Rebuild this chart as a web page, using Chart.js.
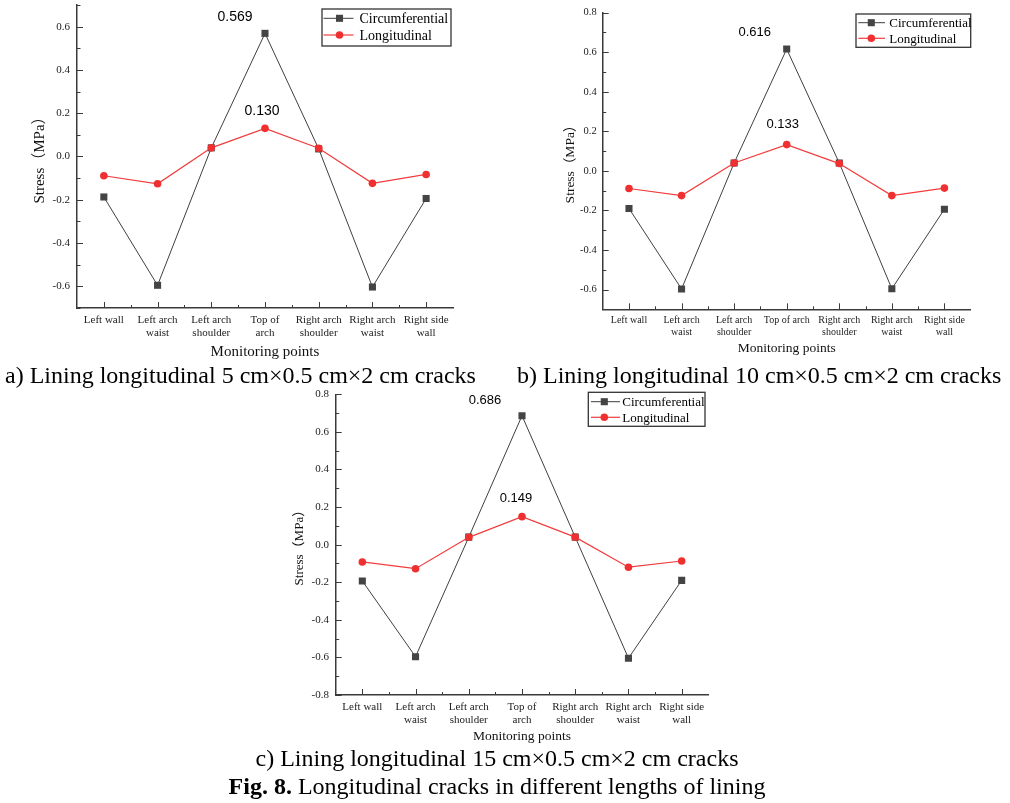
<!DOCTYPE html>
<html><head><meta charset="utf-8">
<script src="https://cdn.jsdelivr.net/npm/chart.js@4.4.1/dist/chart.umd.min.js"></script>
<style>
html,body{margin:0;padding:0;background:#fff;width:1010px;height:803px;overflow:hidden;position:relative;}
.panel{position:absolute;}
.panel canvas{display:block;}
.cap{position:absolute;font-family:'Liberation Serif','Times New Roman',serif;font-size:24px;line-height:28px;white-space:nowrap;color:#000;}
</style></head><body>
<div class="panel" style="left:0px;top:0px;width:460px;height:362px"><canvas id="ca" width="460" height="362"></canvas></div>
<div class="panel" style="left:530px;top:0px;width:450px;height:362px"><canvas id="cb" width="450" height="362"></canvas></div>
<div class="panel" style="left:290px;top:385px;width:430px;height:360px"><canvas id="cc" width="430" height="360"></canvas></div>
<div class="cap" style="left:5px;top:361px">a) Lining longitudinal 5 cm×0.5 cm×2 cm cracks</div>
<div class="cap" style="left:517px;top:361px">b) Lining longitudinal 10 cm×0.5 cm×2 cm cracks</div>
<div class="cap" style="left:0;width:994px;text-align:center;top:744px">c) Lining longitudinal 15 cm×0.5 cm×2 cm cracks</div>
<div class="cap" style="left:0;width:994px;text-align:center;top:772px"><b>Fig. 8.</b> Longitudinal cracks in different lengths of lining</div>
<script>
// ---- data ----
const categories = [['Left wall'], ['Left arch', 'waist'], ['Left arch', 'shoulder'], ['Top of', 'arch'], ['Right arch', 'shoulder'], ['Right arch', 'waist'], ['Right side', 'wall']];
const categoriesB = [['Left wall'], ['Left arch', 'waist'], ['Left arch', 'shoulder'], ['Top of arch'], ['Right arch', 'shoulder'], ['Right arch', 'waist'], ['Right side', 'wall']];
const seriesNames = ['Circumferential', 'Longitudinal'];

const circA = [-0.187, -0.595, 0.040, 0.569, 0.035, -0.603, -0.194];
const longA = [-0.089, -0.126, 0.040, 0.130, 0.038, -0.124, -0.083];
const circB = [-0.190, -0.597, 0.040, 0.616, 0.040, -0.596, -0.194];
const longB = [-0.089, -0.125, 0.040, 0.133, 0.037, -0.125, -0.087];
const circC = [-0.193, -0.596, 0.040, 0.686, 0.040, -0.604, -0.190];
const longC = [-0.092, -0.128, 0.039, 0.149, 0.040, -0.120, -0.087];

const yTicksA = [-0.6, -0.4, -0.2, 0.0, 0.2, 0.4, 0.6];
const yTicksB = [-0.6, -0.4, -0.2, 0.0, 0.2, 0.4, 0.6, 0.8];
const yTicksC = [-0.8, -0.6, -0.4, -0.2, 0.0, 0.2, 0.4, 0.6, 0.8];
const yRangeA = [-0.7, 0.7];
const yRangeB = [-0.7, 0.8];
const yRangeC = [-0.8, 0.8];

// ---- styles ----
const SERIF = "'Liberation Serif', 'Times New Roman', 'Noto Sans CJK SC', serif";
const SANS = "'Liberation Sans', Arial, sans-serif";
const AX = '#3a3a3a';
const CIRC_COLOR = '#3f3f3f';
const LONG_COLOR = '#f23b3b';

const deco = {
  id: 'deco',
  afterDatasetsDraw(chart, args, o) {
    const ctx = chart.ctx, ca = chart.chartArea, x = chart.scales.x, y = chart.scales.y;
    ctx.save();
    // inward ticks
    ctx.strokeStyle = AX; ctx.lineWidth = 1;
    const steps = Math.round((y.max - y.min) / 0.1);
    for (let i = 0; i <= steps; i++) {
      const v = y.min + i * 0.1;
      const k = Math.round(v * 10);
      const len = (Math.abs(k) % 2 === 0) ? 6 : 3.5;
      const py = Math.round(y.getPixelForValue(v)) + 0.5;
      ctx.beginPath(); ctx.moveTo(ca.left, py); ctx.lineTo(ca.left + len, py); ctx.stroke();
    }
    const n = chart.data.labels.length;
    for (let i = 0; i < n; i++) {
      const px = Math.round(x.getPixelForValue(i)) + 0.5;
      ctx.beginPath(); ctx.moveTo(px, ca.bottom); ctx.lineTo(px, ca.bottom - 6); ctx.stroke();
      if (i > 0) {
        const bx = Math.round((x.getPixelForValue(i - 1) + x.getPixelForValue(i)) / 2) + 0.5;
        ctx.beginPath(); ctx.moveTo(bx, ca.bottom); ctx.lineTo(bx, ca.bottom - 3); ctx.stroke();
      }
    }
    // peak value labels
    ctx.fillStyle = '#000';
    ctx.font = o.labelFont + 'px ' + SANS;
    ctx.textAlign = 'center'; ctx.textBaseline = 'middle';
    chart.data.datasets.forEach((ds, di) => {
      let im = 0;
      ds.data.forEach((v, i) => { if (v > ds.data[im]) im = i; });
      const px = x.getPixelForValue(im), py = y.getPixelForValue(ds.data[im]);
      const off = o.offsets[di];
      ctx.fillText(ds.data[im].toFixed(3), px + off[0], py + off[1]);
    });
    // legend box
    const L = o.legend;
    const bx = ca.right - L.r - L.w, by = ca.top + L.t;
    ctx.fillStyle = '#fff';
    ctx.fillRect(bx, by, L.w, L.h);
    ctx.strokeStyle = '#333'; ctx.lineWidth = 1.3;
    ctx.strokeRect(bx, by, L.w, L.h);
    chart.data.datasets.forEach((ds, di) => {
      const yy = by + L.rows[di];
      ctx.strokeStyle = ds.borderColor; ctx.lineWidth = ds.borderWidth;
      ctx.beginPath(); ctx.moveTo(bx + L.l0, yy); ctx.lineTo(bx + L.l1, yy); ctx.stroke();
      ctx.fillStyle = ds.pointBackgroundColor;
      const mx = bx + L.m;
      if (ds.pointStyle === 'rect') {
        const s = ds.pointRadius * Math.SQRT1_2;
        ctx.fillRect(mx - s, yy - s, 2 * s, 2 * s);
      } else {
        ctx.beginPath(); ctx.arc(mx, yy, ds.pointRadius, 0, Math.PI * 2); ctx.fill();
      }
      ctx.fillStyle = '#000';
      ctx.font = L.font + 'px ' + SERIF;
      ctx.textAlign = 'left'; ctx.textBaseline = 'middle';
      ctx.fillText(ds.label, bx + L.tx, yy + 1);
    });
    ctx.restore();
  }
};

function makeChart(id, labels, circ, long, yTicks, yRange, p) {
  return new Chart(document.getElementById(id), {
    type: 'line',
    data: {
      labels: labels,
      datasets: [
        { label: seriesNames[0], data: circ, borderColor: CIRC_COLOR, borderWidth: 1, pointStyle: 'rect', pointRadius: 5, pointHoverRadius: 5,
          pointBackgroundColor: '#444', pointBorderColor: '#444', pointBorderWidth: 0, order: 2 },
        { label: seriesNames[1], data: long, borderColor: LONG_COLOR, borderWidth: 1.2, pointStyle: 'circle', pointRadius: 3.8, pointHoverRadius: 3.8,
          pointBackgroundColor: '#f03030', pointBorderColor: '#f03030', pointBorderWidth: 0, order: 1 }
      ]
    },
    options: {
      responsive: false, animation: false, events: [],
      layout: { padding: { left: p.padL, right: p.padR, top: p.padT, bottom: p.padB } },
      plugins: { legend: { display: false }, tooltip: { enabled: false },
        deco: { labelFont: p.labelFont, offsets: p.offsets, legend: p.legend } },
      scales: {
        x: {
          type: 'category', offset: true,
          grid: { display: false, drawTicks: false },
          border: { display: true, color: AX, width: 1.5 },
          ticks: { font: { family: SERIF, size: p.xFont, lineHeight: p.xLH }, color: '#222', padding: p.xPad, maxRotation: 0, autoSkip: false },
          title: { display: true, text: 'Monitoring points', font: { family: SERIF, size: p.xtFont, lineHeight: 1.2 }, color: '#111', padding: 0 },
          afterFit: s => { s.height = p.xH; s.paddingLeft = 0; s.paddingRight = 0; }
        },
        y: {
          min: yRange[0], max: yRange[1],
          afterBuildTicks: s => { s.ticks = yTicks.map(v => ({ value: v })); },
          grid: { display: false, drawTicks: false },
          border: { display: true, color: AX, width: 1.5 },
          ticks: { font: { family: SERIF, size: p.yFont }, color: '#222', padding: p.yPad, callback: v => Number(v).toFixed(1) },
          title: { display: true, text: 'Stress（MPa）', font: { family: SERIF, size: p.ytFont, lineHeight: 1.2 }, color: '#111', padding: 0 },
          afterFit: s => { s.width = p.yW; s.paddingTop = 0; s.paddingBottom = 0; }
        }
      }
    },
    plugins: [deco]
  });
}

makeChart('ca', categories, circA, longA, yTicksA, yRangeA, {
  padL: 31, padR: 7, padT: 5, padB: 1, yW: 46, xH: 53,
  xFont: 11, xLH: 13 / 11, xPad: 6, xtFont: 15, yFont: 11, yPad: 7, ytFont: 15,
  labelFont: 14, offsets: [[-30, -16], [-3, -17]],
  legend: { r: 2, w: 129, t: 4, h: 37, rows: [9.3, 26], l0: 1.5, l1: 31.5, m: 17.5, tx: 37.5, font: 14 }
});
makeChart('cb', categoriesB, circB, longB, yTicksB, yRangeB, {
  padL: 31.9, padR: 9.3, padT: 12.7, padB: 5.9, yW: 40.8, xH: 46.8,
  xFont: 10, xLH: 1.2, xPad: 4.7, xtFont: 13.5, yFont: 10.5, yPad: 6, ytFont: 13.5,
  labelFont: 13, offsets: [[-32, -17], [-4, -20]],
  legend: { r: 0, w: 114.7, t: 1.3, h: 33.3, rows: [8.7, 24.3], l0: 2.3, l1: 29, m: 15.3, tx: 33.3, font: 13 }
});
makeChart('cc', categories, circC, longC, yTicksC, yRangeC, {
  padL: 2.2, padR: 11.7, padT: 9.3, padB: 0.9, yW: 43.5, xH: 49.1,
  xFont: 11, xLH: 13 / 11, xPad: 5.5, xtFont: 13.5, yFont: 11, yPad: 6.7, ytFont: 13,
  labelFont: 13, offsets: [[-37, -15], [-6, -18]],
  legend: { r: 3.3, w: 116.7, t: -2, h: 34, rows: [9.4, 25], l0: 2.7, l1: 31.7, m: 16, tx: 34, font: 13 }
});
</script>
</body></html>
